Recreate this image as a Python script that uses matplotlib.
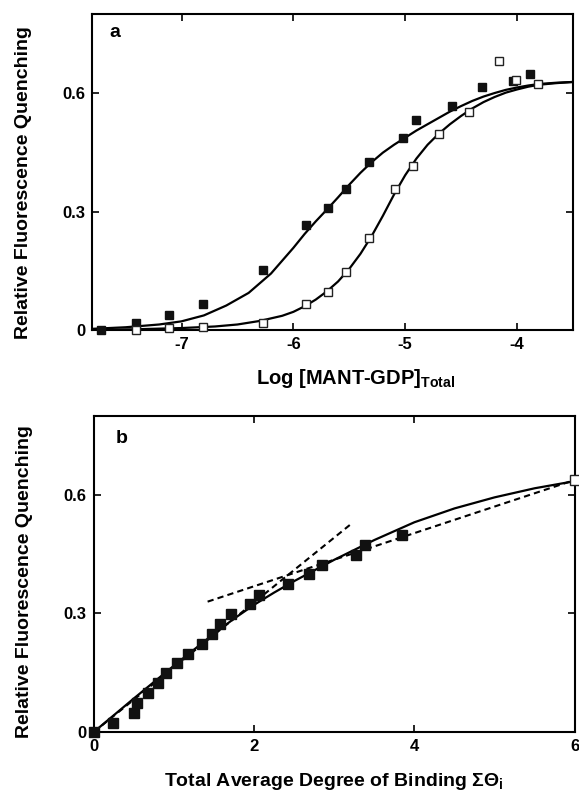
import matplotlib.pyplot as plt

plt.rcParams['font.family'] = ['Liberation Sans', 'DejaVu Sans']
plt.rcParams['font.weight'] = 'bold'
plt.rcParams['axes.unicode_minus'] = False
plt.rcParams['mathtext.fontset'] = 'custom'
plt.rcParams['mathtext.rm'] = 'Liberation Sans:bold'
plt.rcParams['mathtext.it'] = 'Liberation Sans:bold'
plt.rcParams['mathtext.bf'] = 'Liberation Sans:bold'

# panel a: titration data (log total MANT-GDP)
a_filled_x = [-7.72, -7.41, -7.11, -6.81, -6.27, -5.89, -5.69, -5.53, -5.32,
              -5.02, -4.90, -4.58, -4.31, -4.04, -3.88]
a_filled_y = [0.0, 0.017, 0.038, 0.066, 0.152, 0.266, 0.308, 0.356, 0.426,
              0.487, 0.531, 0.568, 0.615, 0.631, 0.649]
a_open_x = [-7.41, -7.11, -6.81, -6.27, -5.89, -5.69, -5.53, -5.32, -5.09,
            -4.93, -4.70, -4.43, -4.16, -4.01, -3.81]
a_open_y = [0.0, 0.005, 0.007, 0.019, 0.066, 0.097, 0.148, 0.232, 0.357,
            0.414, 0.495, 0.551, 0.680, 0.633, 0.624]

# fitted curves
fit_filled_x = [-7.8, -7.5, -7.2, -7.0, -6.8, -6.6, -6.4, -6.2, -6.0, -5.9, -5.8,
                -5.7, -5.6, -5.5, -5.4, -5.3, -5.2, -5.1, -5.0, -4.9, -4.8, -4.7,
                -4.6, -4.5, -4.4, -4.3, -4.2, -4.1, -4.0, -3.9, -3.8, -3.65, -3.5]
fit_filled_y = [0.003, 0.007, 0.014, 0.022, 0.037, 0.062, 0.094, 0.143, 0.208,
                0.243, 0.275, 0.305, 0.336, 0.368, 0.398, 0.425, 0.449, 0.469,
                0.487, 0.505, 0.521, 0.537, 0.553, 0.567, 0.580, 0.591, 0.600,
                0.608, 0.614, 0.619, 0.623, 0.626, 0.628]
fit_open_x = [-7.8, -7.4, -7.0, -6.7, -6.5, -6.3, -6.1, -6.0, -5.9, -5.8, -5.7,
              -5.6, -5.5, -5.4, -5.3, -5.2, -5.1, -5.0, -4.9, -4.8, -4.7, -4.6,
              -4.5, -4.4, -4.3, -4.2, -4.1, -4.0, -3.9, -3.8, -3.65, -3.5]
fit_open_y = [0.0, 0.002, 0.005, 0.009, 0.014, 0.023, 0.036, 0.046, 0.060,
              0.077, 0.098, 0.123, 0.155, 0.193, 0.238, 0.289, 0.343, 0.392,
              0.434, 0.469, 0.497, 0.521, 0.542, 0.561, 0.577, 0.590, 0.601,
              0.609, 0.616, 0.621, 0.625, 0.628]

# panel b: quenching vs total average degree of binding
b_filled_x = [0.0, 0.24, 0.50, 0.54, 0.68, 0.80, 0.90, 1.04, 1.18, 1.35, 1.47,
              1.58, 1.71, 1.95, 2.06, 2.42, 2.69, 2.85, 3.27, 3.38, 3.84]
b_filled_y = [0.0, 0.024, 0.048, 0.073, 0.099, 0.124, 0.149, 0.174, 0.198,
              0.223, 0.248, 0.273, 0.298, 0.324, 0.347, 0.374, 0.399, 0.424,
              0.448, 0.474, 0.499]
b_open_x = [6.0]
b_open_y = [0.638]

b_fit_x = [0.0, 0.5, 1.0, 1.5, 1.75, 2.0, 2.25, 2.5, 3.0, 3.5, 4.0, 4.5, 5.0, 5.5, 6.0]
b_fit_y = [0.0, 0.085, 0.168, 0.249, 0.287, 0.322, 0.353, 0.382, 0.436,
           0.486, 0.531, 0.566, 0.594, 0.617, 0.635]

# two straight dashed lines
steep_x = [0.0, 3.2]
steep_y = [0.0, 0.525]
shallow_x = [1.42, 6.0]
shallow_y = [0.330, 0.638]

fig = plt.figure(figsize=(5.79, 7.96), dpi=100)
ax_a = fig.add_axes([0.159, 0.5854, 0.8306, 0.397])
ax_b = fig.add_axes([0.162, 0.0804, 0.8306, 0.397])

ms = 6.3
ax_a.plot(fit_filled_x, fit_filled_y, color='black', lw=1.6, zorder=2)
ax_a.plot(fit_open_x, fit_open_y, color='black', lw=1.6, zorder=2)
ax_a.plot(a_filled_x, a_filled_y, 's', ms=ms, color='#111111', zorder=3, clip_on=False)
ax_a.plot(a_open_x, a_open_y, 's', ms=ms, mfc='white', mec='#222222', mew=1.0,
          zorder=4, clip_on=False)

ax_a.set_xlim(-7.8, -3.5)
ax_a.set_ylim(0, 0.8)
ax_a.set_xticks([-7, -6, -5, -4])
ax_a.set_xticklabels(['-7', '-6', '-5', '-4'])
ax_a.set_yticks([0, 0.3, 0.6])
ax_a.set_yticklabels(['0', '0.3', '0.6'])
ax_a.set_xlabel(r'Log [MANT-GDP]$_{\rm Total}$', fontsize=14.5, fontweight='bold')
ax_a.xaxis.set_label_coords(0.547, -0.118)
ax_a.set_ylabel('Relative Fluorescence Quenching', fontsize=14, fontweight='bold')
ax_a.yaxis.set_label_coords(-0.125, 0.468)
ax_a.text(0.048, 0.94, 'a', transform=ax_a.transAxes, fontsize=14,
          fontweight='bold', ha='center', va='center')

ms_b = 7.2
ax_b.plot(b_fit_x, b_fit_y, color='black', lw=1.6, zorder=2)
ax_b.plot(steep_x, steep_y, color='black', lw=1.5, ls=(0, (3, 2)), zorder=2)
ax_b.plot(shallow_x, shallow_y, color='black', lw=1.5, ls=(0, (3, 2)), zorder=2)
ax_b.plot(b_filled_x, b_filled_y, 's', ms=ms_b, color='#111111', zorder=3, clip_on=False)
ax_b.plot(b_open_x, b_open_y, 's', ms=ms_b, mfc='white', mec='#222222', mew=1.0,
          zorder=4, clip_on=False)

ax_b.set_xlim(0, 6)
ax_b.set_ylim(0, 0.8)
ax_b.set_xticks([0, 2, 4, 6])
ax_b.set_yticks([0, 0.3, 0.6])
ax_b.set_yticklabels(['0', '0.3', '0.6'])
ax_b.set_xlabel(r'Total Average Degree of Binding ΣΘ$_{\rm i}$', fontsize=14,
                fontweight='bold', labelpad=12)
ax_b.set_ylabel('Relative Fluorescence Quenching', fontsize=14, fontweight='bold')
ax_b.yaxis.set_label_coords(-0.127, 0.476)
ax_b.text(0.058, 0.93, 'b', transform=ax_b.transAxes, fontsize=14,
          fontweight='bold', ha='center', va='center')

for ax in (ax_a, ax_b):
    for sp in ax.spines.values():
        sp.set_linewidth(1.5)
    ax.tick_params(direction='in', length=5, width=1.2, top=True, right=True,
                   labelsize=12, pad=5)
    for lab in ax.get_xticklabels() + ax.get_yticklabels():
        lab.set_fontweight('bold')

fig.savefig('out.png', dpi=100)
